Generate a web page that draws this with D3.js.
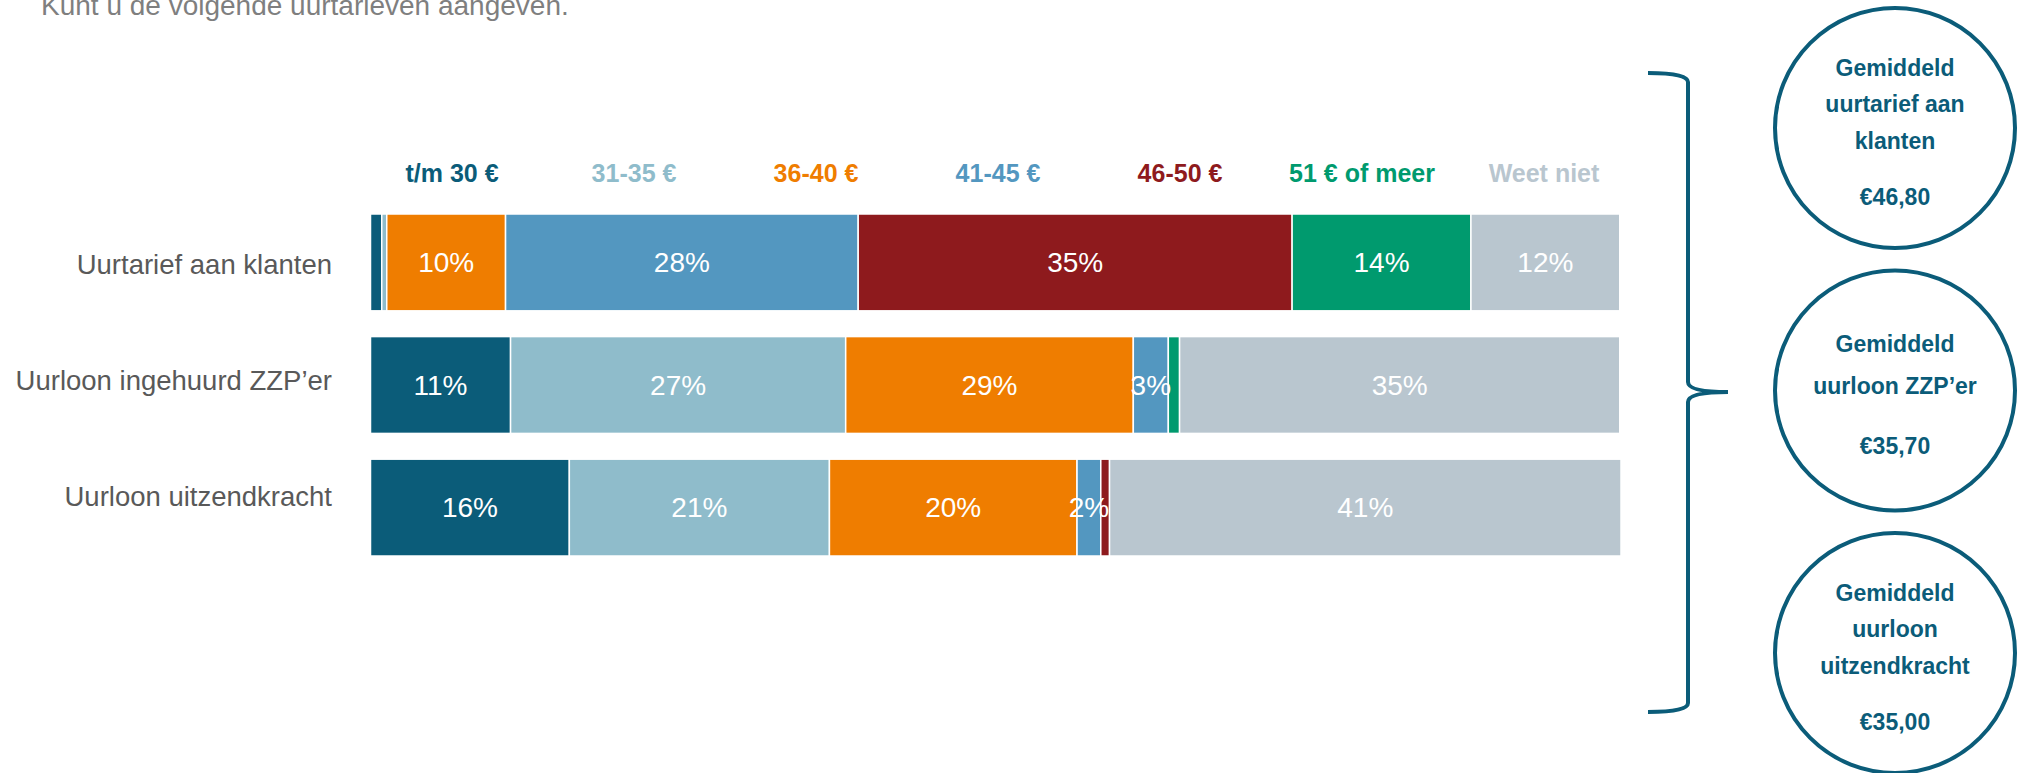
<!DOCTYPE html>
<html>
<head>
  <meta charset="utf-8">
  <title>Uurtarieven</title>
  <style>
    body { margin: 0; background: #fff; }
    svg { display: block; font-family: "Liberation Sans", Arial, sans-serif; }
    .cat-label { font-size: 27.5px; fill: #595959; }
    .val-label { font-size: 28px; fill: #fff; }
    .legend-label { font-size: 25px; font-weight: bold; }
    .circle-text { font-size: 23px; font-weight: bold; fill: #0b5c79; }
  </style>
</head>
<body>
  <div id="chart"></div>

  <script src="https://d3js.org/d3.v7.min.js"></script>
  <script>
    // Data
    const title = "Kunt u de volgende uurtarieven aangeven.";
    const categories = ["t/m 30 €", "31-35 €", "36-40 €", "41-45 €", "46-50 €", "51 € of meer", "Weet niet"];
    const colors = ["#0b5c79", "#8fbccb", "#ef7d00", "#5397c0", "#8e1a1d", "#009a6e", "#b9c6cf"];
    const rows = ["Uurtarief aan klanten", "Uurloon ingehuurd ZZP\u2019er", "Uurloon uitzendkracht"];

    // bar widths (%) per row, as drawn
    const klanten = [0.9, 0.4, 9.5, 28.2, 34.7, 14.3, 11.9];
    const zzp = [11.2, 26.8, 23.0, 2.8, 0, 0.9, 35.2];
    const uitzend = [15.9, 20.8, 19.8, 1.9, 0.7, 0, 40.9];

    // printed labels per row (null = no label)
    const klantenLabels = [null, null, 10, 28, 35, 14, 12];
    const zzpLabels = [11, 27, 29, 3, null, null, 35];
    const uitzendLabels = [16, 21, 20, 2, null, null, 41];

    const averages = [
      { lines: ["Gemiddeld", "uurtarief aan", "klanten"], value: "€46,80" },
      { lines: ["Gemiddeld", "uurloon ZZP\u2019er"], value: "€35,70" },
      { lines: ["Gemiddeld", "uurloon", "uitzendkracht"], value: "€35,00" }
    ];

    const values = [klanten, zzp, uitzend];
    const labels = [klantenLabels, zzpLabels, uitzendLabels];

    const width = 2020, height = 773;

    const svg = d3.select("#chart")
      .append("svg")
      .attr("width", width)
      .attr("height", height);

    // Title (cut off at the top edge, like the source slide)
    svg.append("text")
      .attr("x", 41)
      .attr("y", 15)
      .attr("font-size", 28)
      .attr("fill", "#7f7f7f")
      .text(title);

    // Scales
    const x = d3.scaleLinear().domain([0, 100]).range([370.5, 1621]);
    const y = d3.scaleBand().domain(rows).range([214, 556]).paddingInner(0.21).paddingOuter(0);
    const labelY = d3.scalePoint().domain(rows).range([264.5, 496.5]);
    const legendX = d3.scalePoint().domain(categories).range([452, 1544]);
    const color = d3.scaleOrdinal().domain(categories).range(colors);

    // Legend across the top
    svg.append("g")
      .selectAll("text")
      .data(categories)
      .join("text")
      .attr("class", "legend-label")
      .attr("x", d => legendX(d))
      .attr("y", 173)
      .attr("dy", "0.35em")
      .attr("text-anchor", "middle")
      .attr("fill", d => color(d))
      .text(d => d);

    // Stack the segments
    const segs = [];
    rows.forEach((r, i) => {
      let acc = 0;
      values[i].forEach((v, j) => {
        segs.push({ row: r, cat: categories[j], x0: acc, x1: acc + v, label: labels[i][j] });
        acc += v;
      });
    });

    const bars = svg.append("g");
    bars.selectAll("rect")
      .data(segs.filter(d => d.x1 > d.x0))
      .join("rect")
      .attr("x", d => x(d.x0))
      .attr("y", d => y(d.row))
      .attr("width", d => x(d.x1) - x(d.x0))
      .attr("height", y.bandwidth())
      .attr("fill", d => color(d.cat))
      .attr("stroke", "#fff")
      .attr("stroke-width", 1.5);

    bars.selectAll("text")
      .data(segs.filter(d => d.label != null))
      .join("text")
      .attr("class", "val-label")
      .attr("x", d => (x(d.x0) + x(d.x1)) / 2)
      .attr("y", d => y(d.row) + y.bandwidth() / 2)
      .attr("dy", "0.35em")
      .attr("text-anchor", "middle")
      .text(d => d.label + "%");

    // Row labels
    svg.append("g")
      .selectAll("text")
      .data(rows)
      .join("text")
      .attr("class", "cat-label")
      .attr("x", 332)
      .attr("y", d => labelY(d))
      .attr("dy", "0.35em")
      .attr("text-anchor", "end")
      .text(d => d);

    // Curly brace
    svg.append("path")
      .attr("d", "M1648,73 Q1688,73 1688,82 L1688,382 Q1688,392 1728,392 Q1688,392 1688,402 L1688,703 Q1688,712 1648,712")
      .attr("fill", "none")
      .attr("stroke", "#0b5c79")
      .attr("stroke-width", 4);

    // Average circles
    const circleY = d3.scalePoint().domain(d3.range(averages.length)).range([128, 653]);
    const cx = 1895, r = 120;

    const circles = svg.append("g")
      .selectAll("g")
      .data(averages)
      .join("g")
      .attr("transform", (d, i) => `translate(${cx},${circleY(i)})`);

    circles.append("circle")
      .attr("r", r)
      .attr("fill", "#fff")
      .attr("stroke", "#0b5c79")
      .attr("stroke-width", 4);

    circles.each(function(d) {
      const g = d3.select(this);
      const n = d.lines.length;
      const lineH = n === 2 ? 42 : 36.5;
      const gap = n === 2 ? 60 : 56;
      const total = (n - 1) * lineH + gap;
      const first = 12.4 - total / 2;
      d.lines.forEach((t, k) => {
        g.append("text")
          .attr("class", "circle-text")
          .attr("text-anchor", "middle")
          .attr("y", first + k * lineH)
          .text(t);
      });
      g.append("text")
        .attr("class", "circle-text")
        .attr("text-anchor", "middle")
        .attr("y", first + total)
        .text(d.value);
    });
  </script>
</body>
</html>
